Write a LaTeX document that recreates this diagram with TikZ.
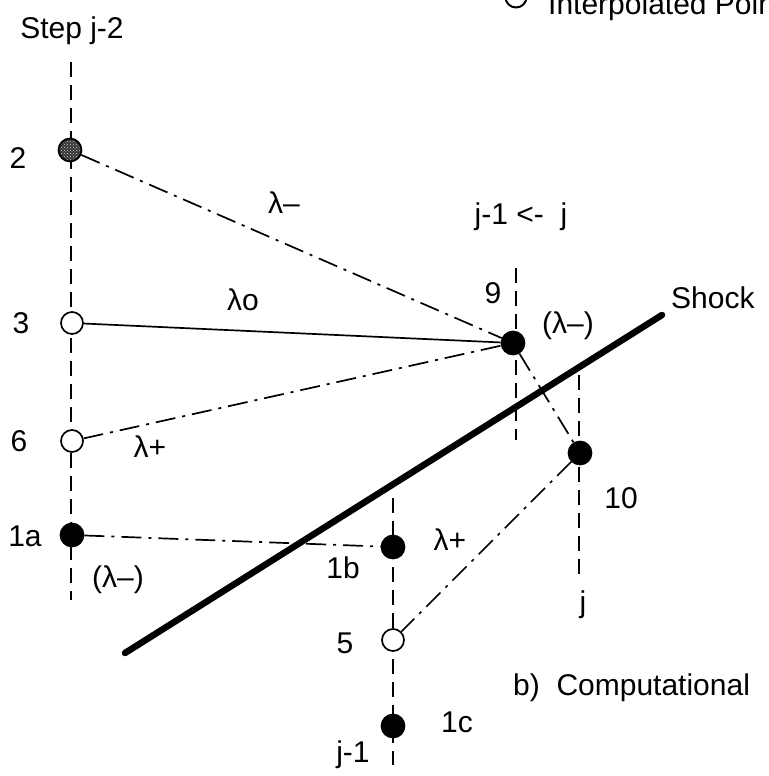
\documentclass[tikz,border=0pt]{standalone}
\usepackage{fontspec}
\setmainfont{Liberation Sans}
\usetikzlibrary{patterns}
\begin{document}
\begin{tikzpicture}[x=1pt,y=-1pt,
  lbl/.style={font=\fontsize{30}{36}\selectfont, inner sep=0pt},
  grid/.style={line width=1.7pt, dash pattern=on 15pt off 8pt},
  ray/.style={line width=1.7pt, dash pattern=on 20pt off 7pt on 3pt off 7pt},
  ptbase/.style={circle, draw, line width=1.7pt, minimum size=22pt, inner sep=0pt},
  solidpt/.style={ptbase, fill=black, minimum size=23pt},
  openpt/.style={ptbase, fill=white},
  shock/.style={line width=6.5pt, line cap=round}]
\useasboundingbox (0,0) rectangle (768,776);
% legend (cut off at top)
\node[openpt, minimum size=21pt, line width=2pt] (leg) at (516,-3) {};
\node[lbl, anchor=base west] (legt) at (548,15) {Interpolated Points};
% grid lines
\draw[grid] (71,62) -- (71,600);
\draw[grid] (516,268) -- (516,440);
\draw[grid] (579,375) -- (579,578);
\draw[grid] (393,498) -- (393,765);
% shock
\draw[shock] (125,653) -- (662,315);
% points
\fill[black!80] (70,150) circle (11.5pt);
\fill[pattern=crosshatch dots, pattern color=white!85!black] (70,150) circle (10pt);
\node[ptbase, minimum size=23pt] (p2) at (70,150) {};
\node[openpt] (p3) at (72,323) {};
\node[openpt] (p6) at (72,441) {};
\node[solidpt] (p1a) at (72,535) {};
\node[solidpt] (p9) at (513,343) {};
\node[solidpt] (p10) at (580,453) {};
\node[solidpt] (p1b) at (393,547) {};
\node[openpt] (p5) at (393,640) {};
\node[solidpt] (p1c) at (393,726) {};
% connectors
\draw[ray] (p2) -- (p9);
\draw[line width=1.7pt] (p3) -- (p9);
\draw[ray] (p6) -- (p9);
\draw[ray] (p9) -- (p10);
\draw[ray] (p1a) -- (p1b);
\draw[ray] (p10) -- (p5);
% labels
\node[lbl] (tstep) at (72,31) {Step j-2};
\node[lbl] (t2) at (18,158) {2};
\node[lbl] (t3) at (21,323) {3};
\node[lbl] (t6) at (19,441) {6};
\node[lbl] (t1a) at (25,536) {1a};
\node[lbl] (tlm1) at (118,580) {(λ–)};
\node[lbl] (tlm) at (284,203) {λ–};
\node[lbl] (tlo) at (243,300) {λo};
\node[lbl] (tlp) at (150,447) {λ+};
\node[lbl] (tj1j) at (521,217) {j-1 <-\ \ j};
\node[lbl] (t9) at (493,293) {9};
\node[lbl] (tlm9) at (568,326) {(λ–)};
\node[lbl, anchor=west] (tshock) at (671,298) {Shock};
\node[lbl] (t10) at (621,498) {10};
\node[lbl] (tj) at (583,605) {j};
\node[lbl] (t1b) at (343,568) {1b};
\node[lbl] (tlp2) at (450,540) {λ+};
\node[lbl] (t5) at (345,643) {5};
\node[lbl] (t1c) at (457,722) {1c};
\node[lbl] (tj1) at (353,755) {j-1};
\node[lbl, anchor=base west] (tcomp) at (513,695) {b)\ \ Computational};
\end{tikzpicture}
\end{document}
